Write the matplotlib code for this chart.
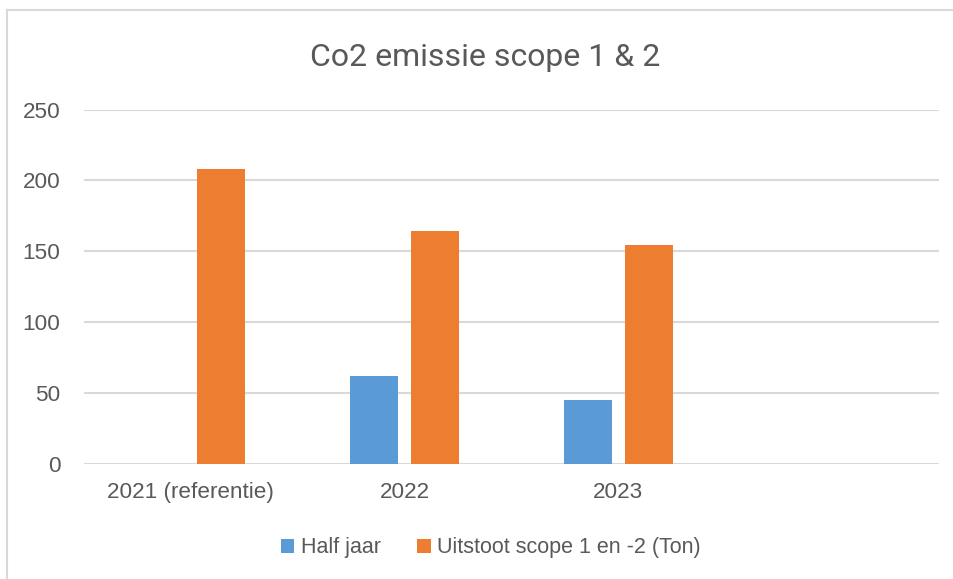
import numpy as np
import matplotlib
matplotlib.use("Agg")
import matplotlib.pyplot as plt

categories = ["2021 (referentie)", "2022", "2023", ""]
half_jaar = [np.nan, 62, 45, np.nan]
uitstoot = [208, 164, 154, np.nan]
series_names = ["Half jaar", "Uitstoot scope 1 en -2 (Ton)"]
yticks = [0, 50, 100, 150, 200, 250]

blue = "#5B9BD5"
orange = "#ED7D31"
grey_txt = "#595959"
grid_c = "#D9D9D9"

plt.rcParams['font.family'] = ['Liberation Sans', 'DejaVu Sans']

fig = plt.figure(figsize=(9.54, 5.79), dpi=100)
W, H = 954, 579

# chart frame (left + top visible)
fig.add_artist(plt.Line2D([7/W, 7/W], [0, 1 - 10/H], color=grid_c, lw=1.5))
fig.add_artist(plt.Line2D([7/W, 1], [1 - 10/H, 1 - 10/H], color=grid_c, lw=1.5))

ax = fig.add_axes([84/W, 1 - 463.5/H, (939 - 84)/W, (463.5 - 109.5)/H])

x = np.arange(len(categories))
w = 0.225
off = 0.143
ax.bar(x - off, half_jaar, w, color=blue, label=series_names[0], zorder=3)
ax.bar(x + off, uitstoot, w, color=orange, label=series_names[1], zorder=3)

ax.set_xlim(-0.5, len(categories) - 0.5)
ax.set_ylim(0, 250)
ax.set_yticks(yticks)
ax.set_xticks(x[:3])
ax.set_xticklabels(categories[:3])
ax.grid(axis='y', color=grid_c, lw=1.5, zorder=0)
for s in ax.spines.values():
    s.set_visible(False)
ax.tick_params(length=0, labelsize=16.2, colors=grey_txt)
ax.tick_params(axis='y', pad=17)
ax.tick_params(axis='x', pad=13)

fig.text(485/W, 1 - 57/H, "Co2 emissie scope 1 & 2", ha='center', va='center',
         fontsize=23, color=grey_txt, family=['Roboto', 'DejaVu Sans'])

leg = fig.legend(loc='center', bbox_to_anchor=(491/W, 1 - 548/H), ncol=2,
                 frameon=False, handlelength=0.62, handleheight=0.62,
                 handletextpad=0.3, columnspacing=1.7,
                 prop={'size': 15.5})
for t in leg.get_texts():
    t.set_color(grey_txt)

fig.savefig("out.png", dpi=100)
